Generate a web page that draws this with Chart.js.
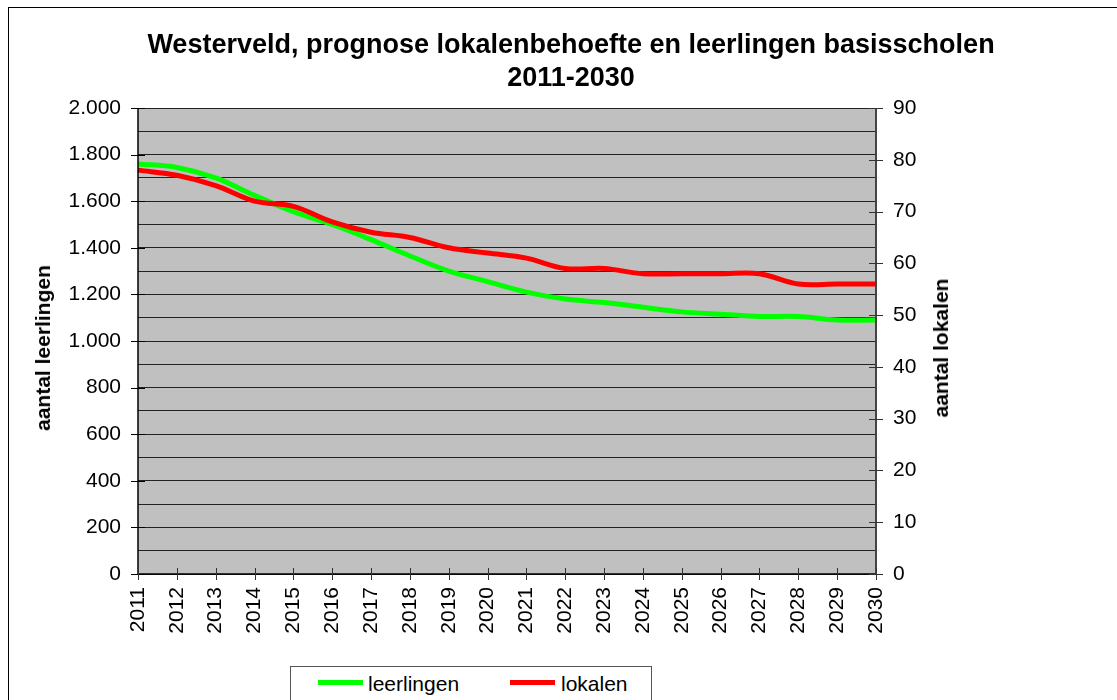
<!DOCTYPE html>
<html>
<head>
<meta charset="utf-8">
<script src="https://cdn.jsdelivr.net/npm/chart.js@4/dist/chart.umd.min.js"></script>
<style>
  html, body { margin:0; padding:0; background:#fff; overflow:hidden; width:1117px; height:700px; }
  #wrap { position:relative; width:1117px; height:700px; font-family:"Liberation Sans", Arial, sans-serif; }
  #frame { position:absolute; left:8px; top:7px; width:1200px; height:800px; border:1px solid #000; box-sizing:border-box; }
  canvas { position:absolute; left:0; top:0; }
  #title { position:absolute; left:0; width:1142px; top:28px; text-align:center; font-weight:bold; font-size:27px; line-height:33px; color:#000; }
  .ytitle { position:absolute; font-weight:bold; font-size:21px; white-space:nowrap; color:#000; transform:translate(-50%,-50%) rotate(-90deg); }
  #legend { position:absolute; left:290px; top:666px; width:362px; height:60px; border:1px solid #555; box-sizing:border-box; background:#fff; }
  .li { position:absolute; top:4px; font-size:21px; line-height:26px; color:#000; }
  .sw { position:absolute; height:5px; top:13px; }
</style>
</head>
<body>
<div id="wrap">
  <div id="frame"></div>
  <canvas id="c" width="1117" height="700"></canvas>
  <div id="title">Westerveld, prognose lokalenbehoefte en leerlingen basisscholen<br>2011-2030</div>
  <div class="ytitle" style="left:43px; top:348px;">aantal leerlingen</div>
  <div class="ytitle" style="left:941px; top:348px;">aantal lokalen</div>
  <div id="legend">
    <div class="sw" style="left:27px; width:45px; background:#00ff00;"></div>
    <div class="li" style="left:77px;">leerlingen</div>
    <div class="sw" style="left:219px; width:45px; background:#ff0000;"></div>
    <div class="li" style="left:270px;">lokalen</div>
  </div>
</div>
<script>
const years = ["2011","2012","2013","2014","2015","2016","2017","2018","2019","2020",
               "2021","2022","2023","2024","2025","2026","2027","2028","2029","2030"];
const leerlingen = [1760,1745,1700,1625,1555,1500,1435,1365,1300,1255,
                    1210,1180,1165,1145,1125,1115,1105,1105,1090,1090];
const lokalen = [78,77,75,72,71,68,66,65,63,62,
                 61,59,59,58,58,58,58,56,56,56];
const leftTicks = [0,200,400,600,800,1000,1200,1400,1600,1800,2000];
const rightTicks = [0,10,20,30,40,50,60,70,80,90];

function fmtNL(v){ return v.toString().replace(/\B(?=(\d{3})+(?!\d))/g, "."); }

const FONT = {family:'"Liberation Sans", Arial, sans-serif', size:21};

const bgPlugin = {
  id:'bg',
  beforeDraw(chart){
    const a = chart.chartArea, ctx = chart.ctx;
    ctx.save();
    ctx.fillStyle = '#c0c0c0';
    ctx.fillRect(a.left, a.top, a.right-a.left, a.bottom-a.top);
    ctx.restore();
  },
  afterDraw(chart){
    const a = chart.chartArea, ctx = chart.ctx;
    const y = chart.scales.y, y1 = chart.scales.y1, x = chart.scales.x;
    ctx.save();
    ctx.strokeStyle = '#000'; ctx.lineWidth = 1.5;
    ctx.beginPath(); ctx.moveTo(a.left, a.top); ctx.lineTo(a.left, a.bottom); ctx.stroke();
    ctx.beginPath(); ctx.moveTo(a.left, a.bottom); ctx.lineTo(a.right, a.bottom); ctx.stroke();
    ctx.strokeStyle = '#444'; ctx.lineWidth = 2;
    ctx.beginPath(); ctx.moveTo(a.right, a.top); ctx.lineTo(a.right, a.bottom); ctx.stroke();
    ctx.lineWidth = 1;
    ctx.strokeStyle = '#000';
    leftTicks.forEach(v => { const p = Math.round(y.getPixelForValue(v))+0.5;
      ctx.beginPath(); ctx.moveTo(a.left-7, p); ctx.lineTo(a.left+7, p); ctx.stroke(); });
    ctx.strokeStyle = '#333';
    rightTicks.forEach(v => { const p = Math.round(y1.getPixelForValue(v))+0.5;
      ctx.beginPath(); ctx.moveTo(a.right-7, p); ctx.lineTo(a.right+7, p); ctx.stroke(); });
    years.forEach((yr, i) => { const p = Math.round(x.getPixelForValue(i))+0.5;
      ctx.beginPath(); ctx.moveTo(p, a.bottom-6); ctx.lineTo(p, a.bottom+6); ctx.stroke(); });
    ctx.restore();
  }
};

new Chart(document.getElementById('c'), {
  type:'line',
  data:{
    labels: years,
    datasets:[
      { label:'leerlingen', data:leerlingen, yAxisID:'y', borderColor:'#00ff00', backgroundColor:'#00ff00',
        borderWidth:5, pointRadius:0, tension:0.35, order:2, fill:false },
      { label:'lokalen', data:lokalen, yAxisID:'y1', borderColor:'#ff0000', backgroundColor:'#ff0000',
        borderWidth:5, pointRadius:0, tension:0.35, order:1, fill:false }
    ]
  },
  options:{
    responsive:false, animation:false, devicePixelRatio:1,
    layout:{ padding:{ top:108, left:0, right:0, bottom:0 } },
    plugins:{ legend:{display:false}, title:{display:false}, tooltip:{enabled:false} },
    scales:{
      x:{ type:'category', offset:false,
          grid:{ display:false, drawTicks:false }, border:{ display:false },
          ticks:{ autoSkip:false, maxRotation:90, minRotation:90, padding:13, color:'#000', font:FONT },
          afterFit(s){ s.height = 126; } },
      y:{ position:'left', min:0, max:2000,
          grid:{ color:'#222', lineWidth:1, drawTicks:false }, border:{ display:false },
          ticks:{ stepSize:100, autoSkip:false, padding:17, color:'#000', font:FONT,
                  callback:(v)=> (v % 200 === 0 ? fmtNL(v) : '') },
          afterFit(s){ s.width = 138; } },
      y1:{ position:'right', min:0, max:90,
          grid:{ drawOnChartArea:false, drawTicks:false }, border:{ display:false },
          ticks:{ stepSize:10, autoSkip:false, padding:17, color:'#000', font:FONT },
          afterFit(s){ s.width = 241; } }
    }
  },
  plugins:[bgPlugin]
});
</script>
</body>
</html>
